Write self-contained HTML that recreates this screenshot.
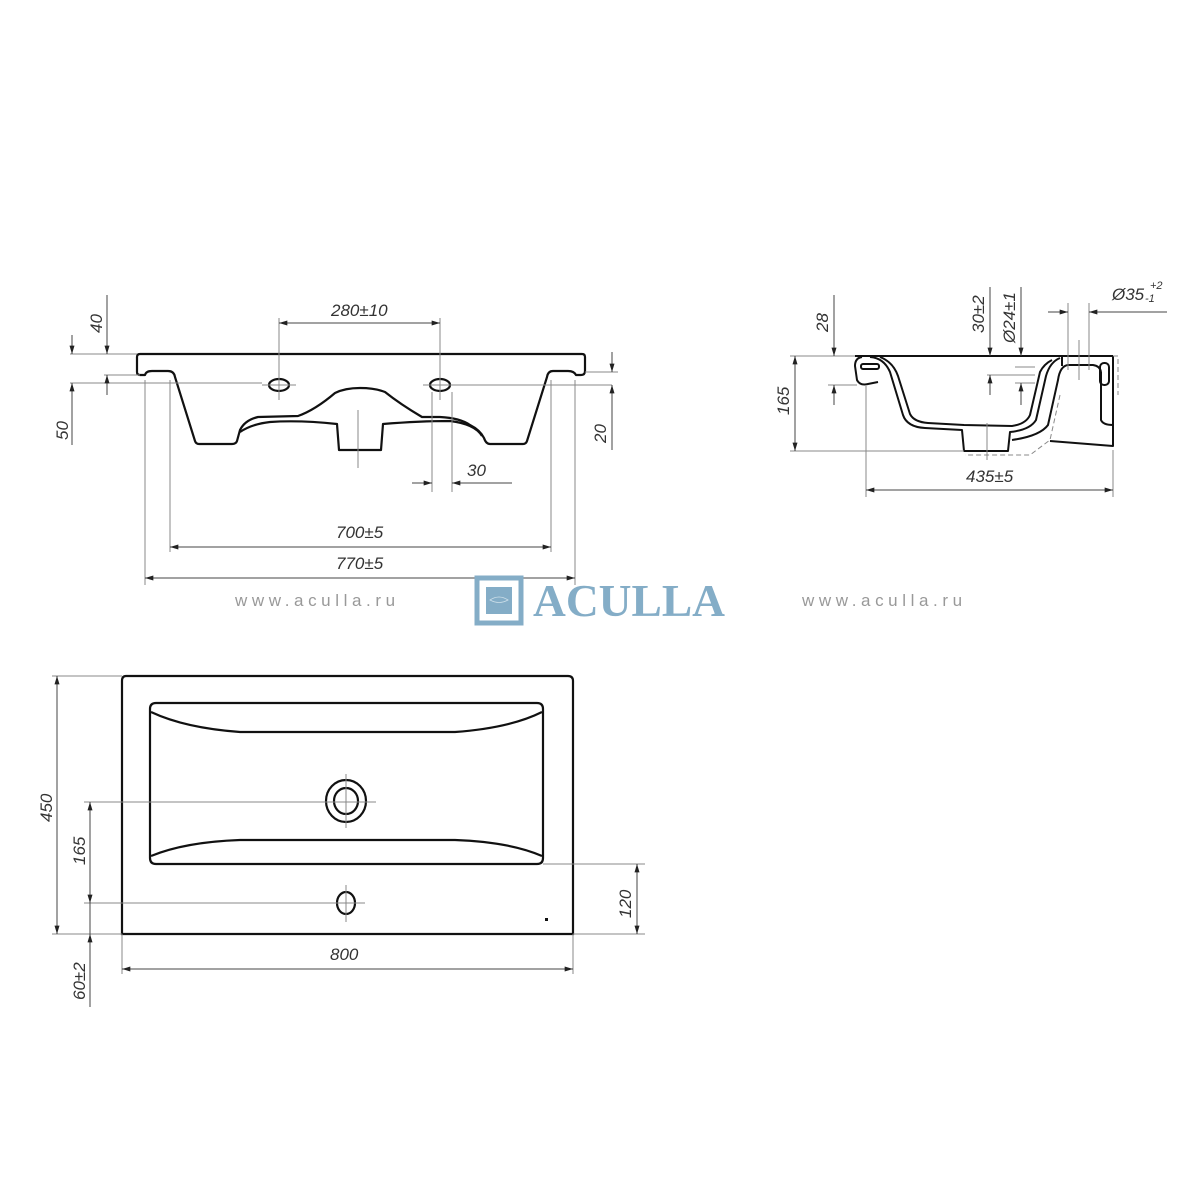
<!DOCTYPE html>
<html><head><meta charset="utf-8"><style>
html,body{margin:0;padding:0;background:#fff;}
svg{display:block;}
.d{font-family:"Liberation Sans",sans-serif;font-style:italic;font-size:17px;fill:#333;}
</style></head><body>
<svg width="1200" height="1200" viewBox="0 0 1200 1200" xmlns="http://www.w3.org/2000/svg">
<defs>
<marker id="a" viewBox="0 0 10 6" refX="10" refY="3" markerWidth="14" markerHeight="5" orient="auto-start-reverse" markerUnits="userSpaceOnUse"><path d="M0,0 L10,3 L0,6 z" fill="#222"/></marker>
</defs>
<rect width="1200" height="1200" fill="#fff"/>

<!-- FRONT VIEW -->
<g fill="none" stroke="#111" stroke-width="2.2" stroke-linejoin="round">
<path d="M140,354 L582,354 Q585,354 585,357 L585,371 Q585,375 581,375 L576,375 Q574,371 568,371 L553,371 Q548,371 547,377 L527,441 Q526,444 523,444 L490,444 Q486,444 484,438 Q480,430 470,425 Q460,418 440,417 L422,417 Q400,404 385,392 Q375,388 360,388 Q345,388 335,393 Q315,410 298,416 L258,417 Q245,420 240,430 L237,441 Q236,444 232,444 L199,444 Q196,444 195,441 L175,377 Q174,371 168,371 L152,371 Q146,371 145,375 L140,375 Q137,375 137,372 L137,357 Q137,354 140,354 Z"/>
<path d="M240,432 Q252,424 270,422 Q300,420 337,424 L339,450 L381,450 L383,424 Q420,421 450,421 Q475,424 482,436"/>
<ellipse cx="279" cy="385" rx="10" ry="6"/>
<ellipse cx="440" cy="385" rx="10" ry="6"/>
</g>
<g stroke="#888" stroke-width="1" fill="none">
<line x1="279" y1="318" x2="279" y2="400"/><line x1="440" y1="318" x2="440" y2="400"/>
<line x1="262" y1="385" x2="296" y2="385"/><line x1="423" y1="385" x2="612" y2="385"/>
<line x1="358" y1="410" x2="358" y2="468"/>
<line x1="70" y1="354" x2="137" y2="354"/><line x1="104" y1="375" x2="140" y2="375"/>
<line x1="70" y1="383" x2="262" y2="383"/>
<line x1="585" y1="372" x2="618" y2="372"/>
<line x1="432" y1="392" x2="432" y2="492"/><line x1="452" y1="392" x2="452" y2="492"/>
<line x1="170" y1="380" x2="170" y2="552"/><line x1="551" y1="380" x2="551" y2="552"/>
<line x1="145" y1="380" x2="145" y2="585"/><line x1="575" y1="380" x2="575" y2="585"/>
</g>
<g stroke="#444" stroke-width="1" fill="none">
<line x1="279" y1="323" x2="440" y2="323" marker-start="url(#a)" marker-end="url(#a)"/>
<line x1="107" y1="295" x2="107" y2="354" marker-end="url(#a)"/><line x1="107" y1="375" x2="107" y2="395" marker-start="url(#a)"/>
<line x1="72" y1="335" x2="72" y2="354" marker-end="url(#a)"/><line x1="72" y1="383" x2="72" y2="445" marker-start="url(#a)"/>
<line x1="612" y1="352" x2="612" y2="372" marker-end="url(#a)"/><line x1="612" y1="385" x2="612" y2="450" marker-start="url(#a)"/>
<line x1="412" y1="483" x2="432" y2="483" marker-end="url(#a)"/><line x1="452" y1="483" x2="512" y2="483" marker-start="url(#a)"/>
<line x1="170" y1="547" x2="551" y2="547" marker-start="url(#a)" marker-end="url(#a)"/>
<line x1="145" y1="578" x2="575" y2="578" marker-start="url(#a)" marker-end="url(#a)"/>
</g>
<text class="d" x="331" y="316">280±10</text>
<text class="d" x="336" y="538">700±5</text>
<text class="d" x="336" y="569">770±5</text>
<text class="d" x="467" y="476">30</text>
<text class="d" transform="translate(102,333) rotate(-90)">40</text>
<text class="d" transform="translate(68,440) rotate(-90)">50</text>
<text class="d" transform="translate(606,443) rotate(-90)">20</text>

<!-- SIDE VIEW -->
<g fill="none" stroke="#111" stroke-width="2" stroke-linejoin="round">
<line x1="855" y1="356" x2="1113" y2="356"/>
<path d="M862,357 Q855,358 855,366 L857,380 Q860,386 868,384 L878,382"/>
<path d="M870,357 Q884,358 890,372 L903,415 Q907,427 925,428 L962,430 L964,451 L1008,451 L1010,432 Q1030,430 1036,420 L1046,376 Q1050,362 1060,358"/>
<path d="M880,357 Q893,362 898,376 L910,414 Q914,422 928,423 L964,425 L1012,426 Q1026,424 1030,415 L1040,372 Q1044,364 1052,360"/>
<path d="M1012,440 Q1040,436 1048,425 L1058,380 Q1060,366 1068,365 L1093,365 Q1100,366 1101,372"/>
<path d="M1062,357 L1062,366"/><path d="M1113,356 L1113,446 L1050,441"/>
<rect x="1100" y="363" width="9" height="22" rx="4"/>
<rect x="861" y="364" width="18" height="5" rx="2"/>
<path d="M1101,372 L1101,420 Q1103,425 1113,425"/>
</g>
<g stroke="#888" stroke-width="1" fill="none">
<line x1="790" y1="356" x2="855" y2="356"/><line x1="790" y1="451" x2="964" y2="451"/>
<line x1="828" y1="385" x2="857" y2="385"/>
<line x1="866" y1="386" x2="866" y2="497"/><line x1="1113" y1="450" x2="1113" y2="497"/>
<line x1="1068" y1="303" x2="1068" y2="370"/><line x1="1089" y1="303" x2="1089" y2="370"/>
<line x1="1079" y1="340" x2="1079" y2="380"/>
<line x1="987" y1="375" x2="1035" y2="375"/><line x1="1015" y1="367" x2="1035" y2="367"/><line x1="1015" y1="383" x2="1035" y2="383"/>
<line x1="987" y1="423" x2="987" y2="460"/>
<path d="M1060,395 L1050,440 L1030,455 L965,455" stroke-dasharray="5,3"/>
<path d="M1113,356 L1118,356 L1118,395" stroke-dasharray="5,3"/>
</g>
<g stroke="#444" stroke-width="1" fill="none">
<line x1="795" y1="356" x2="795" y2="451" marker-start="url(#a)" marker-end="url(#a)"/>
<line x1="834" y1="295" x2="834" y2="356" marker-end="url(#a)"/><line x1="834" y1="385" x2="834" y2="405" marker-start="url(#a)"/>
<line x1="990" y1="287" x2="990" y2="356" marker-end="url(#a)"/><line x1="990" y1="375" x2="990" y2="395" marker-start="url(#a)"/>
<line x1="1021" y1="287" x2="1021" y2="356" marker-end="url(#a)"/><line x1="1021" y1="383" x2="1021" y2="405" marker-start="url(#a)"/>
<line x1="1048" y1="312" x2="1068" y2="312" marker-end="url(#a)"/><line x1="1089" y1="312" x2="1167" y2="312" marker-start="url(#a)"/>
<line x1="866" y1="490" x2="1113" y2="490" marker-start="url(#a)" marker-end="url(#a)"/>
</g>
<text class="d" x="966" y="482">435±5</text>
<text class="d" transform="translate(789,415) rotate(-90)">165</text>
<text class="d" transform="translate(828,332) rotate(-90)">28</text>
<text class="d" transform="translate(984,333) rotate(-90)">30±2</text>
<text class="d" transform="translate(1015,343) rotate(-90)">Ø24±1</text>
<text class="d" x="1112" y="300">Ø35</text>
<text class="d" x="1150" y="289" style="font-size:11px">+2</text>
<text class="d" x="1145" y="302" style="font-size:11px">-1</text>

<!-- LOGO & WATERMARKS -->
<text x="235" y="606" font-family="Liberation Sans,sans-serif" font-size="17" fill="#999" letter-spacing="4.6">www.aculla.ru</text>
<text x="802" y="606" font-family="Liberation Sans,sans-serif" font-size="17" fill="#999" letter-spacing="4.6">www.aculla.ru</text>
<rect x="477" y="578" width="44" height="45" fill="none" stroke="#84adc7" stroke-width="5"/>
<rect x="486" y="587" width="26" height="27" fill="#84adc7"/>
<path d="M490,600 Q499,594 508,600 Q499,605 490,600 Z" fill="none" stroke="#cfe0ea" stroke-width="0.8"/>
<text x="533" y="616" font-family="Liberation Serif,serif" font-weight="bold" font-size="45" fill="#84adc7" textLength="192" lengthAdjust="spacingAndGlyphs">ACULLA</text>

<!-- TOP VIEW -->
<g fill="none" stroke="#111" stroke-width="2.2">
<path d="M126,676 L568,676 Q573,676 573,681 L573,934 L122,934 L122,681 Q122,676 126,676 Z"/>
<path d="M156,703 L537,703 Q543,703 543,709 L543,858 Q543,864 537,864 L156,864 Q150,864 150,858 L150,709 Q150,703 156,703 Z"/>
<path d="M151,712 Q185,728 240,732 L455,732 Q510,728 542,712"/>
<path d="M151,856 Q185,842 240,840 L455,840 Q510,842 542,856"/>
<ellipse cx="346" cy="801" rx="20" ry="21"/>
<ellipse cx="346" cy="801" rx="12" ry="13"/>
<ellipse cx="346" cy="903" rx="9" ry="11"/>
<rect x="545" y="918" width="3" height="3" fill="#111" stroke="none"/>
</g>
<g stroke="#888" stroke-width="1" fill="none">
<line x1="84" y1="802" x2="376" y2="802"/><line x1="346" y1="774" x2="346" y2="828"/>
<line x1="84" y1="903" x2="365" y2="903"/><line x1="346" y1="885" x2="346" y2="922"/>
<line x1="52" y1="676" x2="122" y2="676"/><line x1="52" y1="934" x2="122" y2="934"/>
<line x1="543" y1="864" x2="645" y2="864"/><line x1="573" y1="934" x2="645" y2="934"/>
<line x1="122" y1="934" x2="122" y2="974"/><line x1="573" y1="934" x2="573" y2="974"/>
</g>
<g stroke="#444" stroke-width="1" fill="none">
<line x1="57" y1="676" x2="57" y2="934" marker-start="url(#a)" marker-end="url(#a)"/>
<line x1="90" y1="802" x2="90" y2="903" marker-start="url(#a)" marker-end="url(#a)"/>
<line x1="90" y1="903" x2="90" y2="1007"/>
<line x1="90" y1="934" x2="90" y2="1000" marker-start="url(#a)"/>
<line x1="637" y1="864" x2="637" y2="934" marker-start="url(#a)" marker-end="url(#a)"/>
<line x1="122" y1="969" x2="573" y2="969" marker-start="url(#a)" marker-end="url(#a)"/>
</g>
<text class="d" x="330" y="960">800</text>
<text class="d" transform="translate(52,822) rotate(-90)">450</text>
<text class="d" transform="translate(85,865) rotate(-90)">165</text>
<text class="d" transform="translate(631,918) rotate(-90)">120</text>
<text class="d" transform="translate(85,1000) rotate(-90)">60±2</text>
</svg>
</body></html>
